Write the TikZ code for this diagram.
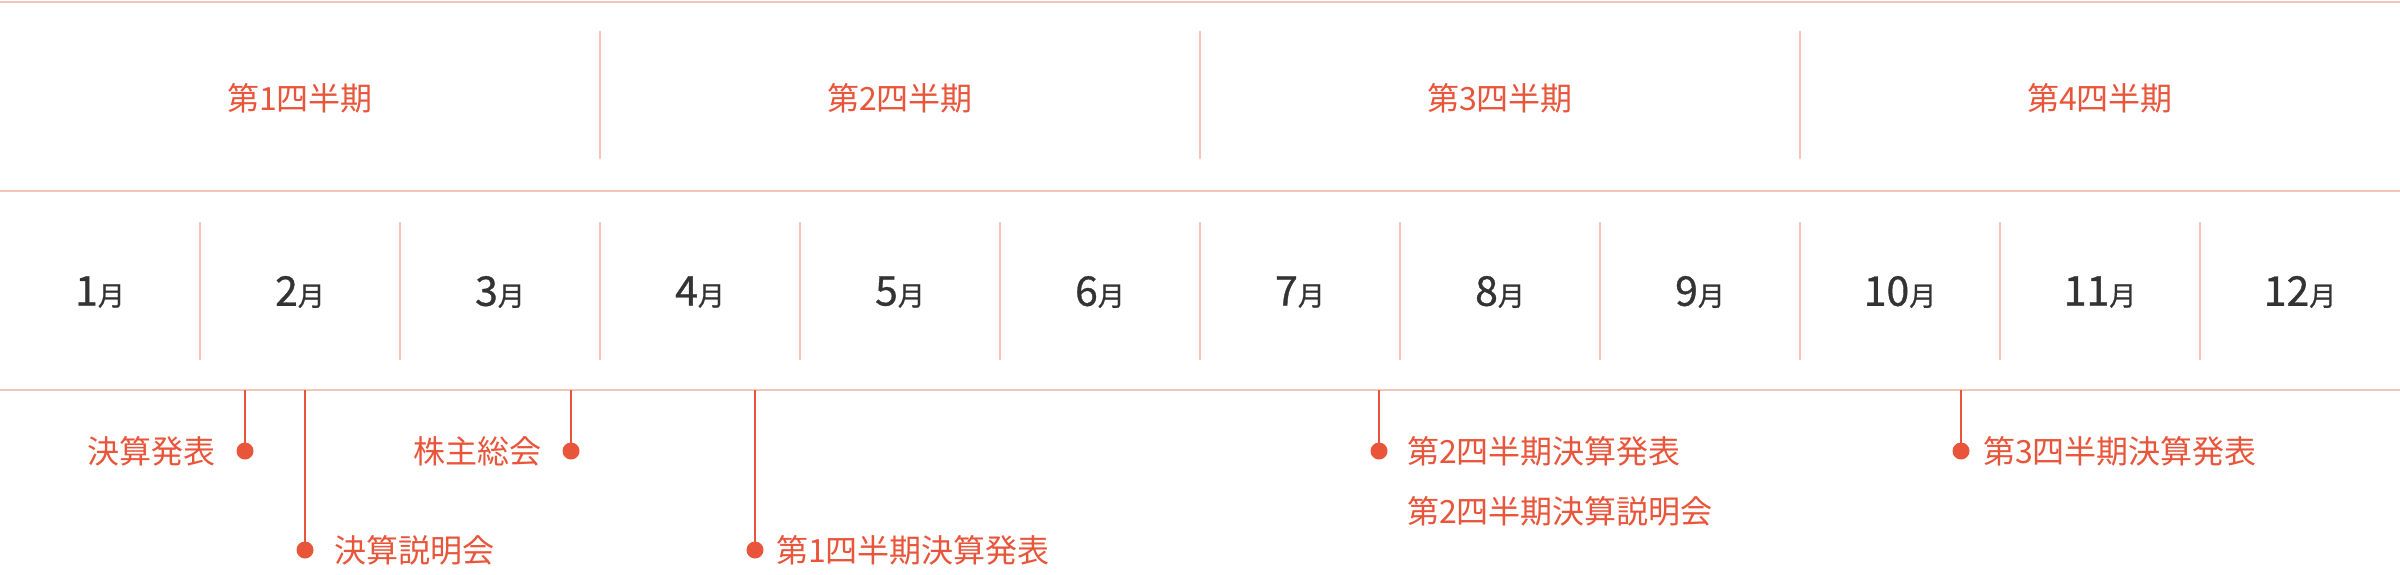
\documentclass[tikz,border=0pt]{standalone}
\usepackage{fontspec}
\setmainfont{Noto Sans CJK JP}
\newfontfamily\medfont[FakeBold=0.8]{Noto Sans CJK JP}
\definecolor{accent}{HTML}{E9553A}
\definecolor{rule}{HTML}{F6C4BA}
\definecolor{dark}{HTML}{333333}
\begin{document}
\begin{tikzpicture}[x=1pt,y=-1pt,
  rl/.style={draw=rule,line width=2pt},
  dv/.style={draw=rule,line width=1.5pt},
  stem/.style={draw=accent,line width=2pt},
  dot/.style={circle,fill=accent,inner sep=0pt,minimum size=17pt},
  qlab/.style={text=accent,inner sep=0pt,font=\fontsize{32}{38}\selectfont},
  mlab/.style={text=dark,inner sep=0pt,font=\medfont},
  evl/.style={text=accent,inner sep=0pt,font=\fontsize{32}{38}\selectfont}]
\useasboundingbox (0,0) rectangle (2400,574);
\fill[white] (0,0) rectangle (2400,574);
% horizontal rules
\coordinate (h0l) at (0,1.5); \coordinate (h0r) at (2400,1.5);
\coordinate (h1l) at (0,191); \coordinate (h1r) at (2400,191);
\coordinate (h2l) at (0,390); \coordinate (h2r) at (2400,390);
\draw[rl] (h0l) -- (h0r);
\draw[rl] (h1l) -- (h1r);
\draw[rl] (h2l) -- (h2r);
% quarter dividers
\foreach \i in {1,2,3}{
  \coordinate (qt\i) at (600*\i,31); \coordinate (qb\i) at (600*\i,159);
  \draw[dv] (qt\i) -- (qb\i);
}
% month dividers
\foreach \i in {1,...,11}{
  \coordinate (mt\i) at (200*\i,222); \coordinate (mb\i) at (200*\i,360);
  \draw[dv] (mt\i) -- (mb\i);
}
% quarter labels
\foreach \i in {1,2,3,4}{
  \node[qlab] (q\i) at (600*\i-300,98) {第\i 四半期};
}
% month labels
\foreach \i in {1,...,12}{
  \node[mlab] (m\i) at (200*\i-100,292) {\fontsize{41}{44}\selectfont\i\fontsize{27}{30}\selectfont 月};
}
% events
\node[dot] (d1) at (245,451) {};
\node[dot] (d2) at (305,550) {};
\node[dot] (d3) at (571,451) {};
\node[dot] (d4) at (755,550) {};
\node[dot] (d5) at (1379,451) {};
\node[dot] (d6) at (1961,451) {};
\foreach \n/\x in {1/245,2/305,3/571,4/755,5/1379,6/1961}{
  \coordinate (s\n) at (\x,390);
  \draw[stem] (s\n) -- (d\n.center);
}
\node[evl,anchor=east] (e1) at (216,451) {決算発表};
\node[evl,anchor=west] (e2) at (334,550) {決算説明会};
\node[evl,anchor=east] (e3) at (542,451) {株主総会};
\node[evl,anchor=west] (e4) at (776,550) {第1四半期決算発表};
\node[evl,anchor=west] (e5) at (1407,451) {第2四半期決算発表};
\node[evl,anchor=west] (e5b) at (1407,511) {第2四半期決算説明会};
\node[evl,anchor=west] (e6) at (1983,451) {第3四半期決算発表};
\end{tikzpicture}
\end{document}
